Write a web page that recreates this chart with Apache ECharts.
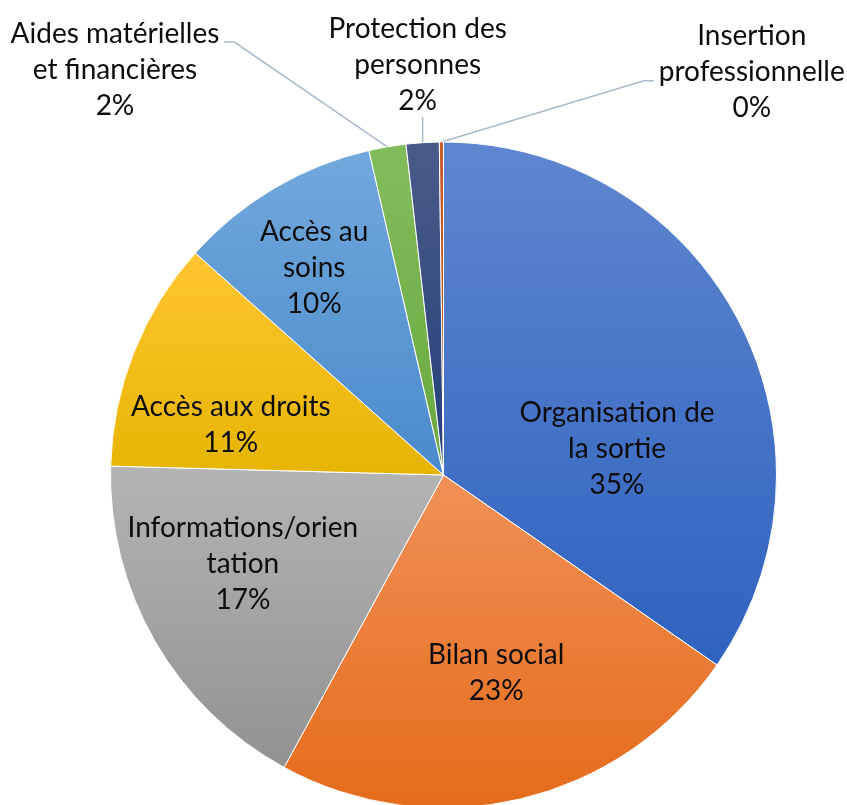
<!DOCTYPE html>
<html>
<head>
<meta charset="utf-8">
<script src="https://cdn.jsdelivr.net/npm/echarts@6/dist/echarts.min.js"></script>
<style>
  html, body { margin: 0; padding: 0; background: #fff; }
  #chart { width: 847px; height: 805px; }
</style>
</head>
<body>
<div id="chart"></div>
<script>
// data (clockwise from 12 o'clock)
let categories = ['Organisation de la sortie', 'Bilan social', 'Informations/orientation', 'Accès aux droits',
  'Accès au soins', 'Aides matérielles et financières', 'Protection des personnes', 'Insertion professionnelle'];
let labelTexts = ['Organisation de\nla sortie', 'Bilan social', 'Informations/orien\ntation', 'Accès aux droits',
  'Accès au\nsoins', 'Aides matérielles\net financières', 'Protection des\npersonnes', 'Insertion\nprofessionnelle'];
let shares = [34.7, 23.3, 17.5, 11.2, 9.8, 1.8, 1.6, 0.2];

// slice gradients (top -> bottom)
let topColors = ['#5f86d0', '#f19158', '#b4b4b4', '#ffc532', '#72a8dc', '#82bd5c', '#4b5b89', '#c85c2c'];
let bottomColors = ['#2f62bf', '#e56b1a', '#929292', '#e6b500', '#4a8acb', '#68a83e', '#22407a', '#a8481a'];

// label anchor: [angle clockwise from top (deg), distance as fraction of radius]
let labelAnchors = [[81.5, 0.527], [165.1, 0.615], [246.1, 0.659], [283.2, 0.656],
  [328, 0.733], [320.95, 1.566], [356.4, 1.234], [37.4, 1.524]];
// where the leader line meets the label (null = label inside the slice)
let leaderSide = [null, null, null, null, null, 'left', 'below', 'right'];

let cx = 443.5, cy = 475, R = 333;

let total = shares.reduce((a, b) => a + b, 0);
let midAngles = [];
let acc = 0;
shares.forEach(v => {
  midAngles.push((acc + v / 2) / total * 360);
  acc += v;
});

let chart = echarts.init(document.getElementById('chart'));

let pieData = categories.map((name, i) => {
  let outside = !!leaderSide[i];
  return {
    name: name,
    value: shares[i],
    itemStyle: {
      color: new echarts.graphic.LinearGradient(0, 0, 0, 1, [
        {offset: 0, color: topColors[i]},
        {offset: 1, color: bottomColors[i]}
      ])
    },
    label: {position: outside ? 'outside' : 'inside'},
    labelLine: {show: outside}
  };
});

chart.setOption({
  animation: false,
  series: [{
    type: 'pie',
    center: [cx, cy],
    radius: R,
    startAngle: 90,
    clockwise: true,
    avoidLabelOverlap: false,
    silent: true,
    itemStyle: {borderColor: '#ffffff', borderWidth: 1},
    label: {
      show: true,
      overflow: 'none',
      fontFamily: 'Lato',
      fontSize: 28,
      lineHeight: 36,
      color: '#0d0d0d',
      align: 'center',
      formatter: p => labelTexts[p.dataIndex] + '\n' + Math.round(p.percent) + '%'
    },
    labelLine: {
      lineStyle: {color: '#a9b9cc', width: 1.5}
    },
    labelLayout: function (p) {
      let i = p.dataIndex;
      let a = labelAnchors[i][0] * Math.PI / 180;
      let f = labelAnchors[i][1];
      let x = cx + R * f * Math.sin(a);
      let y = cy - R * f * Math.cos(a);
      let out = {x: x, y: y, align: 'center', verticalAlign: 'middle'};
      let side = leaderSide[i];
      if (side) {
        let w = p.labelRect.width, h = p.labelRect.height;
        let m = midAngles[i] * Math.PI / 180;
        let p0 = [cx + R * Math.sin(m), cy - R * Math.cos(m)];
        if (side === 'left') {
          let ly = y - 28;
          out.labelLinePoints = [p0, [x + w / 2 + 15, ly], [x + w / 2 + 5, ly]];
        } else if (side === 'right') {
          let ly = y + 9;
          out.labelLinePoints = [p0, [x - w / 2 - 15, ly], [x - w / 2 - 5, ly]];
        } else {
          let by = y + h / 2 - 2;
          out.labelLinePoints = [p0, [p0[0], (p0[1] + by) / 2], [p0[0], by]];
        }
      }
      return out;
    },
    data: pieData
  }]
});
</script>
</body>
</html>
